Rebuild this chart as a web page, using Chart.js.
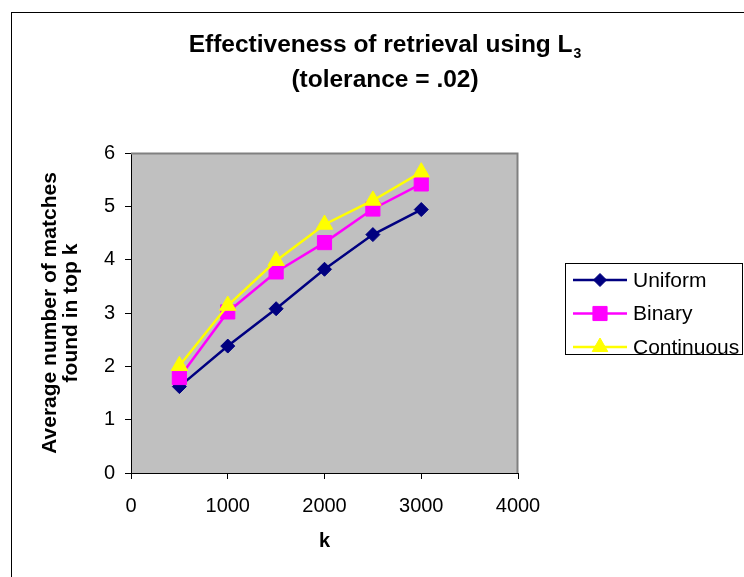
<!DOCTYPE html>
<html>
<head>
<meta charset="utf-8">
<script src="https://cdn.jsdelivr.net/npm/chart.js@4/dist/chart.umd.min.js"></script>
<style>
  html, body { margin: 0; padding: 0; background: #ffffff; }
  #c { display: block; }
</style>
</head>
<body>
<canvas id="c" width="744" height="577"></canvas>
<script>
// ---- Data ----
const kValues = [500, 1000, 1500, 2000, 2500, 3000];
const uniform = [1.62, 2.38, 3.08, 3.82, 4.47, 4.94];
const binary = [1.79, 3.02, 3.77, 4.32, 4.95, 5.42];
const continuous = [2.01, 3.14, 3.98, 4.66, 5.11, 5.64];
const seriesNames = ['Uniform', 'Binary', 'Continuous'];
const titleMain = 'Effectiveness of retrieval using L';
const titleSub = '3';
const titleLine2 = '(tolerance = .02)';
const xTitle = 'k';
const yTitle = ['Average number of matches', 'found in top k'];

const FONT = "'Liberation Sans', Arial, sans-serif";

function pts(ys) { return kValues.map((k, i) => ({ x: k, y: ys[i] })); }

const plotBg = {
  id: 'plotBg',
  beforeDraw(chart) {
    const { ctx, chartArea: a } = chart;
    ctx.save();
    ctx.fillStyle = '#ffffff';
    ctx.fillRect(0, 0, chart.width, chart.height);
    // outer chart border (continues beyond the visible window)
    ctx.strokeStyle = '#000000';
    ctx.lineWidth = 1;
    ctx.strokeRect(11.5, 12.5, 900, 800);
    ctx.fillStyle = '#C0C0C0';
    ctx.fillRect(a.left, a.top, a.right - a.left, a.bottom - a.top);
    ctx.restore();
  },
  beforeDatasetsDraw(chart) {
    const { ctx, chartArea: a } = chart;
    ctx.save();
    ctx.strokeStyle = '#808080';
    ctx.lineWidth = 2;
    ctx.beginPath();
    ctx.moveTo(a.left, a.top + 0.5);
    ctx.lineTo(a.right - 0.5, a.top + 0.5);
    ctx.lineTo(a.right - 0.5, a.bottom);
    ctx.stroke();
    ctx.restore();
  }
};

const titlePlugin = {
  id: 'titlePlugin',
  afterDraw(chart) {
    const { ctx } = chart;
    ctx.save();
    ctx.fillStyle = '#000000';
    ctx.textBaseline = 'alphabetic';
    const cx = 385;
    ctx.font = 'bold 24.5px ' + FONT;
    const w1 = ctx.measureText(titleMain).width;
    ctx.font = 'bold 14px ' + FONT;
    const w2 = ctx.measureText(titleSub).width;
    const x0 = cx - (w1 + w2 + 1) / 2;
    ctx.font = 'bold 24.5px ' + FONT;
    ctx.textAlign = 'left';
    ctx.fillText(titleMain, x0, 52);
    ctx.font = 'bold 14px ' + FONT;
    ctx.fillText(titleSub, x0 + w1 + 1, 58);
    ctx.font = 'bold 24.5px ' + FONT;
    ctx.textAlign = 'center';
    ctx.fillText(titleLine2, cx, 87);
    ctx.restore();
  }
};

const legendPlugin = {
  id: 'legendPlugin',
  afterDraw(chart) {
    const { ctx } = chart;
    ctx.save();
    ctx.strokeStyle = '#000000';
    ctx.lineWidth = 1;
    ctx.strokeRect(565.5, 263.5, 177, 91);
    const rows = [280, 313.5, 347];
    chart.data.datasets.forEach((ds, i) => {
      const y = rows[i];
      ctx.strokeStyle = ds.borderColor;
      ctx.lineWidth = ds.borderWidth;
      ctx.beginPath();
      ctx.moveTo(573, y);
      ctx.lineTo(627, y);
      ctx.stroke();
      ctx.fillStyle = ds.pointBackgroundColor;
      ctx.strokeStyle = ds.pointBorderColor;
      ctx.lineWidth = 1;
      Chart.helpers.drawPoint(ctx, { pointStyle: ds.pointStyle, radius: ds.legendRadius, rotation: 0, borderWidth: 1 }, 600, y);
      ctx.fillStyle = '#000000';
      ctx.font = '21px ' + FONT;
      ctx.textAlign = 'left';
      ctx.textBaseline = 'middle';
      ctx.fillText(seriesNames[i], 633, y + 1);
    });
    ctx.restore();
  }
};

new Chart(document.getElementById('c'), {
  type: 'line',
  data: {
    datasets: [
      { label: seriesNames[0], data: pts(uniform), borderColor: '#000080', backgroundColor: '#000080',
        pointBackgroundColor: '#000080', pointBorderColor: '#000080', pointStyle: 'rectRot',
        pointRadius: 7, legendRadius: 6.5, borderWidth: 2.5, pointBorderWidth: 1, order: 2 },
      { label: seriesNames[1], data: pts(binary), borderColor: '#FF00FF', backgroundColor: '#FF00FF',
        pointBackgroundColor: '#FF00FF', pointBorderColor: '#FF00FF', pointStyle: 'rect',
        pointRadius: 10, legendRadius: 10, borderWidth: 2.5, pointBorderWidth: 1, order: 1 },
      { label: seriesNames[2], data: pts(continuous), borderColor: '#FFFF00', backgroundColor: '#FFFF00',
        pointBackgroundColor: '#FFFF00', pointBorderColor: '#FFFF00', pointStyle: 'triangle',
        pointRadius: 9.5, legendRadius: 9, borderWidth: 2.5, pointBorderWidth: 1, order: 0 }
    ]
  },
  options: {
    responsive: false,
    animation: false,
    devicePixelRatio: 1,
    layout: { padding: { top: 153, right: 226, bottom: 26, left: 40 } },
    plugins: { legend: { display: false }, title: { display: false }, tooltip: { enabled: false } },
    elements: { line: { tension: 0 } },
    scales: {
      x: {
        type: 'linear', min: 0, max: 4000,
        afterFit(s) { s.height = 78; },
        ticks: { stepSize: 1000, color: '#000', font: { family: FONT, size: 20 }, padding: 15, maxRotation: 0,
                 callback: (v) => String(v) },
        grid: { drawOnChartArea: false, drawTicks: true, tickLength: 6, color: '#000' },
        border: { display: true, color: '#000', width: 1 },
        title: { display: true, text: xTitle, color: '#000', font: { family: FONT, size: 20, weight: 'bold', lineHeight: '20px' }, padding: { top: 0, bottom: 0 } }
      },
      y: {
        min: 0, max: 6,
        afterFit(s) { s.width = 91; },
        ticks: { stepSize: 1, color: '#000', font: { family: FONT, size: 20 }, padding: 10,
                 callback: (v) => String(v) },
        grid: { drawOnChartArea: false, drawTicks: true, tickLength: 6, color: '#000' },
        border: { display: true, color: '#000', width: 1 },
        title: { display: true, text: yTitle, color: '#000', font: { family: FONT, size: 21, weight: 'bold', lineHeight: '21px' }, padding: { top: 0, bottom: 0 } }
      }
    }
  },
  plugins: [plotBg, titlePlugin, legendPlugin]
});
</script>
</body>
</html>
